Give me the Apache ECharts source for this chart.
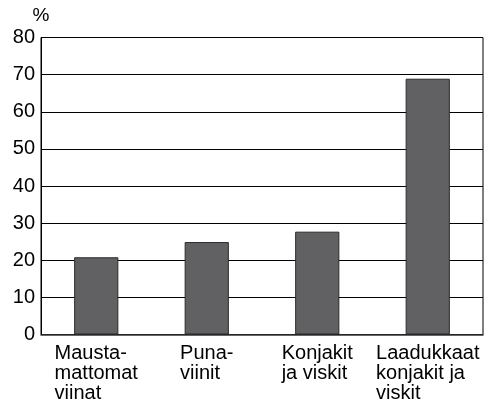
<!DOCTYPE html>
<html>
<head>
<meta charset="utf-8">
<script src="https://cdn.jsdelivr.net/npm/echarts@6/dist/echarts.min.js"></script>
<style>
  html, body { margin: 0; padding: 0; background: #fff; }
  #chart { width: 491px; height: 404px; }
</style>
</head>
<body>
<div id="chart"></div>
<script>
const categories = ['Mausta-\nmattomat\nviinat', 'Puna-\nviinit', 'Konjakit\nja viskit', 'Laadukkaat\nkonjakit ja\nviskit']
const shares = [20.8, 24.9, 27.7, 68.9]
const yTicks = [0, 10, 20, 30, 40, 50, 60, 70, 80]

const chart = echarts.init(document.getElementById('chart'))
const font = 'Liberation Sans, Arial, Helvetica, sans-serif'

chart.setOption({
  animation: false,
  grid: {
    left: 41,
    right: 8,
    top: 37.5,
    bottom: 69.5,
    show: true,
    borderColor: '#000',
    borderWidth: 1
  },
  xAxis: {
    type: 'category',
    data: categories,
    axisLine: { lineStyle: { color: '#333', width: 1.5 } },
    axisTick: { show: false },
    axisLabel: {
      interval: 0,
      margin: 9,
      fontFamily: font,
      fontSize: 20,
      lineHeight: 20,
      color: '#000',
      align: 'center',
      formatter: function (v) {
        return v.split('\n').map(function (s) { return '{l|' + s + '}' }).join('\n')
      },
      rich: {
        l: { align: 'left', fontFamily: font, fontSize: 20, lineHeight: 20, color: '#000' }
      }
    }
  },
  yAxis: {
    type: 'value',
    min: yTicks[0],
    max: yTicks[yTicks.length - 1],
    interval: 10,
    name: '%',
    nameLocation: 'end',
    nameGap: 12,
    nameTextStyle: { fontFamily: font, fontSize: 19, color: '#000', align: 'center' },
    axisLine: { show: true, lineStyle: { color: '#000', width: 1 } },
    axisTick: { show: false },
    axisLabel: { margin: 6, fontFamily: font, fontSize: 20, color: '#000' },
    splitLine: { lineStyle: { color: '#000', width: 1 } }
  },
  series: [
    {
      type: 'bar',
      data: shares,
      barWidth: '40%',
      itemStyle: { color: '#616163', borderColor: '#2a2a2a', borderWidth: 1 }
    }
  ]
})
</script>
</body>
</html>
